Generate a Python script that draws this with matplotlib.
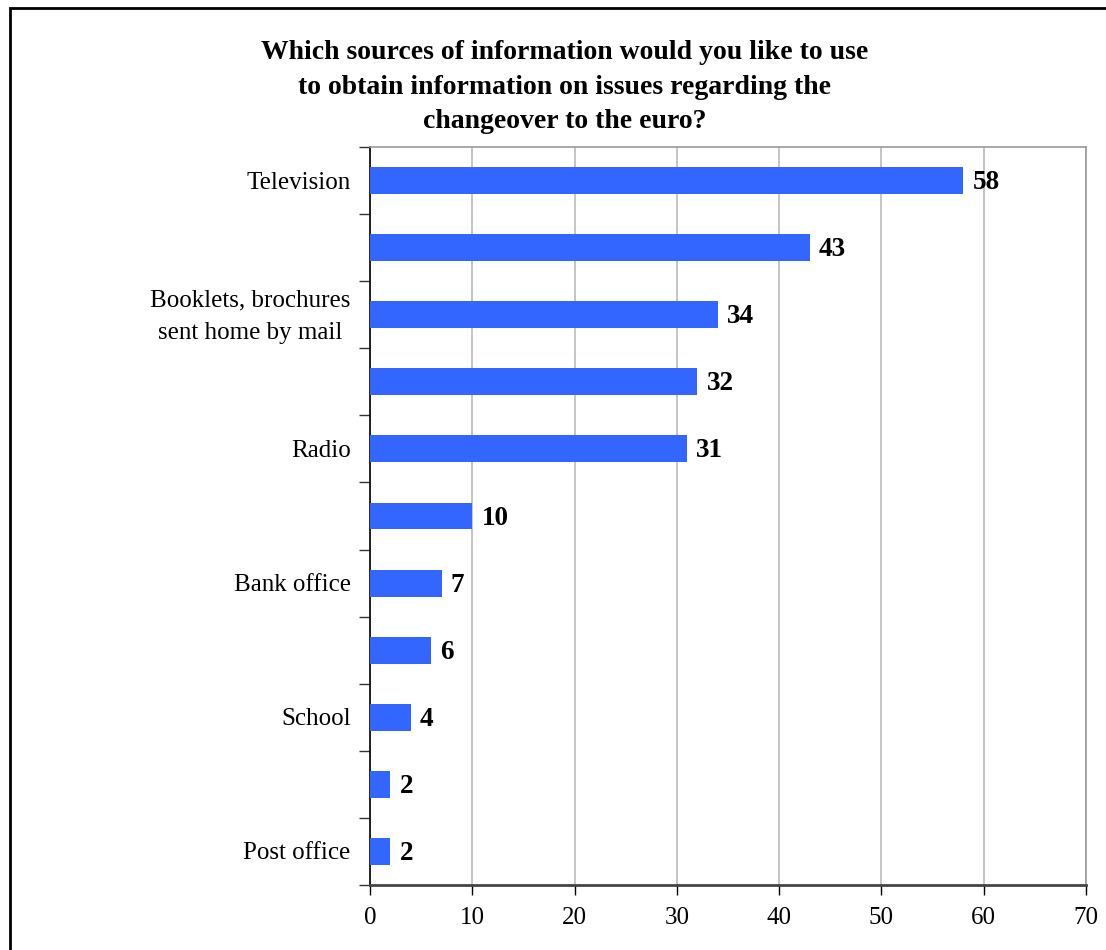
import matplotlib
matplotlib.use("Agg")
import matplotlib.pyplot as plt
from matplotlib.patches import Rectangle

# Survey answers, top to bottom (only every second category is labelled)
categories = ["Television", "", "Booklets, brochures\nsent home by mail", "",
              "Radio", "", "Bank office", "", "School", "", "Post office"]
values = [58, 43, 34, 32, 31, 10, 7, 6, 4, 2, 2]
x_ticks = [0, 10, 20, 30, 40, 50, 60, 70]
title = ("Which sources of information would you like to use\n"
         "to obtain information on issues regarding the\n"
         "changeover to the euro?")

plt.rcParams["font.family"] = ["Liberation Serif", "DejaVu Serif"]

W, H = 1106, 950
fig = plt.figure(figsize=(W / 100, H / 100), dpi=100)

# Outer frame around the chart
fig.patches.append(Rectangle((10 / W, -0.01), 1.1, 1 - 8 / H + 0.01,
                             transform=fig.transFigure, fill=False,
                             edgecolor="black", linewidth=2, zorder=0))

ax = fig.add_axes([370 / W, 1 - 885 / H, (1086 - 370) / W, (885 - 147) / H])

n = len(values)
pos = list(range(n))
ax.barh(pos, values, height=0.4, color="#3366FF", zorder=3)
ax.set_ylim(n - 0.5, -0.5)
ax.set_xlim(0, 70)

# Value labels next to each bar
for p, v in zip(pos, values):
    ax.text(v + 0.9, p + 0.03, str(v), va="center", ha="left",
            fontsize=19.5, fontweight="bold", zorder=4)

# Category labels centred on bars, ticks on band boundaries
ax.set_yticks([i - 0.5 for i in range(n + 1)])
ax.set_yticklabels([])
ax.tick_params(axis="y", length=8, width=1, color="#333333", direction="out")
for p, lab in zip(pos, categories):
    if lab:
        ax.text(-1.9, p + 0.03, lab, ha="right", va="center", fontsize=18,
                linespacing=1.65, multialignment="center", clip_on=False)

ax.set_xticks(x_ticks)
ax.set_xticklabels([str(t) for t in x_ticks], fontsize=18)
ax.tick_params(axis="x", length=7, width=1, color="black", direction="out", pad=9)

ax.grid(axis="x", color="#BBBBBB", linewidth=1.2, zorder=0)
ax.set_axisbelow(True)
for side in ["top", "right"]:
    ax.spines[side].set_color("#999999")
    ax.spines[side].set_linewidth(1.2)
ax.spines["left"].set_color("black")
ax.spines["left"].set_linewidth(1.2)
ax.spines["bottom"].set_color("#444444")
ax.spines["bottom"].set_linewidth(2)

fig.text(565 / W, 1 - 87 / H, title, ha="center", va="center",
         fontsize=20, fontweight="bold", linespacing=1.52)

fig.savefig("out.png", dpi=100, facecolor="white")
